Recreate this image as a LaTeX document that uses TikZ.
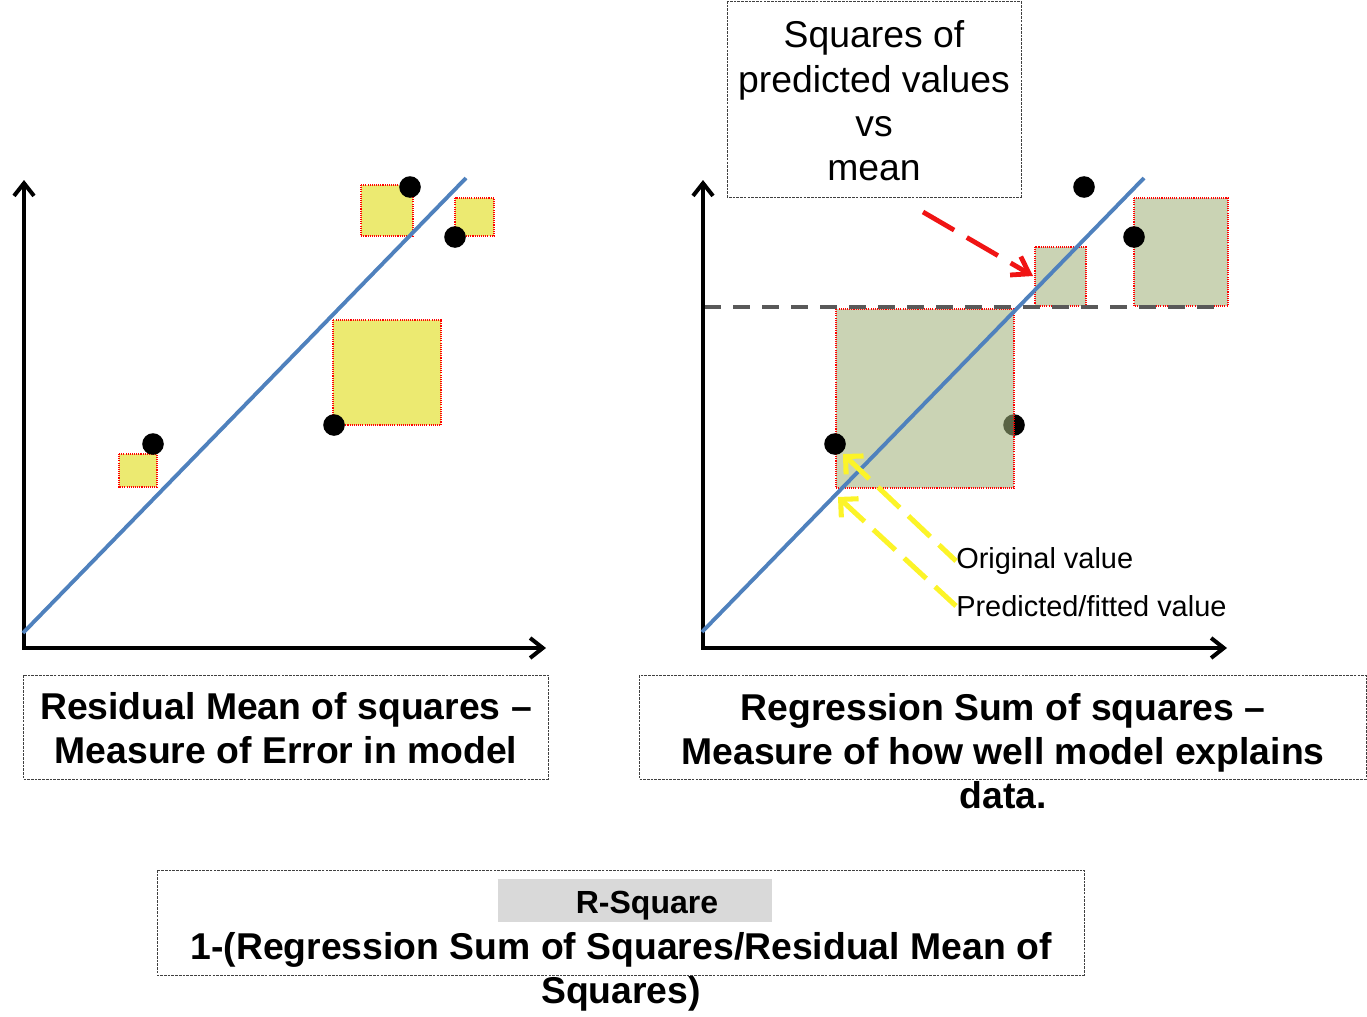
\documentclass[tikz,border=0pt]{standalone}
\usepackage{fontspec}
\setmainfont{Liberation Sans}
\usetikzlibrary{arrows.meta}
\definecolor{sqyellow}{RGB}{236,234,113}
\definecolor{sqgreen}{RGB}{160,177,122}
\definecolor{regblue}{RGB}{79,129,189}
\definecolor{meangray}{RGB}{89,89,89}
\definecolor{arrowyellow}{RGB}{252,244,40}
\definecolor{arrowred}{RGB}{240,20,20}
\definecolor{rsqgray}{RGB}{217,217,217}
\tikzset{
  axisline/.style={line width=3pt, line join=miter,
    {Straight Barb[length=9.5pt,width=15pt]}-{Straight Barb[length=9.5pt,width=15pt]}},
  regline/.style={draw=regblue, line width=2.9pt},
  errsq/.style={fill=sqyellow, draw=red, line width=0.8pt, dash pattern=on 0.8pt off 0.8pt},
  regsq/.style={fill=sqgreen, fill opacity=0.56, draw=red, draw opacity=1, line width=0.8pt, dash pattern=on 0.8pt off 0.8pt},
  datadot/.style={fill=black},
  meanline/.style={draw=meangray, line width=3pt, dash pattern=on 12.75pt off 9pt},
  boxborder/.style={draw=black!75, line width=0.7pt, dash pattern=on 2pt off 0.8pt},
  boldtext/.style={font=\fontsize{28}{33}\selectfont\bfseries, align=center, inner sep=0pt},
  toptext/.style={font=\fontsize{28}{33.2}\selectfont, align=center, inner sep=0pt},
  labeltext/.style={font=\fontsize{21.7}{26}\selectfont, anchor=west, inner sep=0pt},
  redarrow/.style={draw=arrowred, line width=3.6pt, dash pattern=on 27pt off 11pt,
    -{Straight Barb[length=12pt,width=16pt]}},
  yelarrow/.style={draw=arrowyellow, line width=3.8pt, dash pattern=on 22.5pt off 9pt,
    {Straight Barb[length=9.5pt,width=19pt]}-},
}
\begin{document}
\begin{tikzpicture}[x=0.75pt,y=-0.75pt]
\useasboundingbox (0,0) rectangle (1367,1017);

% ---------- Left chart ----------
\path[errsq] (361,185) rectangle (413,236);
\path[errsq] (455,198) rectangle (494,236);
\path[errsq] (333,320) rectangle (441,425);
\path[errsq] (119,454) rectangle (157,487);

\coordinate (Lyt) at (24,180);
\coordinate (Lo) at (24,648);
\coordinate (Lxt) at (546,648);
\draw[axisline] (Lyt) -- (Lo) -- (Lxt);

\coordinate (Lls) at (23,633);
\coordinate (Lle) at (466,178);
\draw[regline] (Lls) -- (Lle);

\fill[datadot] (410,187) circle (10.8);
\fill[datadot] (455,237) circle (10.8);
\fill[datadot] (334,425) circle (10.8);
\fill[datadot] (153,444) circle (10.8);

% ---------- Right chart ----------
\fill[datadot] (1014,425) circle (10.8);

\path[regsq] (836,309) rectangle (1014,488);
\path[regsq] (1035,247) rectangle (1086,306);
\path[regsq] (1134,198) rectangle (1228,306);

\coordinate (Rms) at (704,307);
\coordinate (Rme) at (1224,307);
\draw[meanline] (Rms) -- (Rme);

\coordinate (Ryt) at (703,180);
\coordinate (Ro) at (703,648);
\coordinate (Rxt) at (1227,648);
\draw[axisline] (Ryt) -- (Ro) -- (Rxt);

\coordinate (Rls) at (702,632);
\coordinate (Rle) at (1144,178);
\draw[regline] (Rls) -- (Rle);

\fill[datadot] (1084,187) circle (10.8);
\fill[datadot] (1134,237) circle (10.8);
\fill[datadot] (835,444) circle (10.8);

% labels and arrows
\node[labeltext] (orig) at (956,561) {Original value};
\node[labeltext] (pred) at (956,606) {Predicted/fitted value};
\coordinate (origtip) at (843,454);
\coordinate (predtip) at (838,497);
\draw[yelarrow] (origtip) -- (orig.west);
\draw[yelarrow] (predtip) -- (pred.west);

% top box
\draw[boxborder] (727,1) rectangle (1021,197);
\node[toptext] (topbox) at (874,101) {Squares of\\predicted values\\vs\\mean};
\coordinate (rstart) at (923,212);
\coordinate (rtip) at (1033,276);
\draw[redarrow] (rstart) -- (rtip);

% bottom-left box
\draw[boxborder] (23,675) rectangle (548,779);
\node[boldtext] (resid) at (286,728) {Residual Mean of squares --\\Measure of Error in model};

% bottom-right box
\draw[boxborder] (639,675) rectangle (1366,779);
\node[boldtext] (regr) at (1003,751) {Regression Sum of squares --\\Measure of how well model explains\\data.};

% R-square box
\draw[boxborder] (157,870) rectangle (1084,975);
\fill[rsqgray] (498,879) rectangle (772,922);
\node[font=\fontsize{24}{28}\selectfont\bfseries, inner sep=0pt] (rsq) at (647,906) {R-Square};
\node[boldtext] (formula) at (621,972) {1-(Regression Sum of Squares/Residual Mean of\\Squares)};
\end{tikzpicture}
\end{document}
